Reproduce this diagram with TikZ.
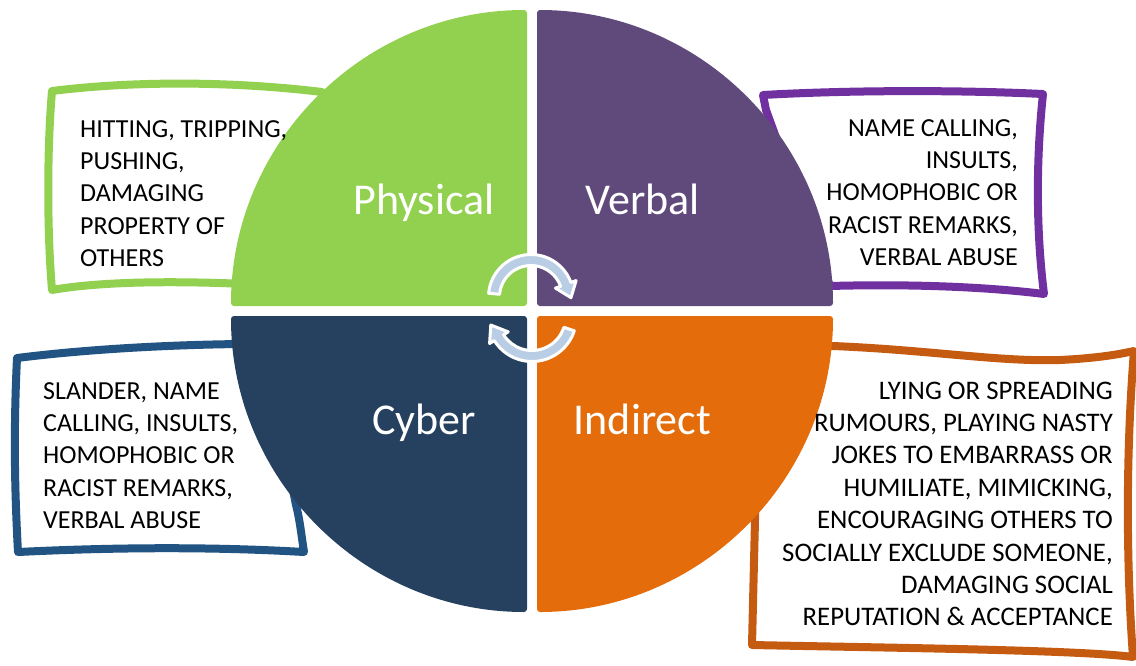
\documentclass[tikz,border=0pt]{standalone}
\usepackage{fontspec}
\setmainfont{Carlito}
\usetikzlibrary{calc}
\definecolor{cgreen}{RGB}{146,208,80}
\definecolor{cpurple}{RGB}{96,74,123}
\definecolor{cnavy}{RGB}{38,64,96}
\definecolor{corange}{RGB}{228,108,10}
\definecolor{bpurple}{RGB}{112,48,160}
\definecolor{bblue}{RGB}{33,84,130}
\definecolor{borange}{RGB}{197,90,17}
\definecolor{arrowblue}{RGB}{185,205,229}
\begin{document}
\begin{tikzpicture}[x=1pt,y=-1pt,
  wavybox/.style={fill=white, line width=8pt, line join=round},
  quad/.style={rounded corners=3pt},
  quadlabel/.style={text=white, font=\fontsize{44}{52}\selectfont, inner sep=0pt, anchor=base},
  boxtext/.style={font=\fontsize{26}{32.4}\selectfont, inner sep=0pt, text=black},
  cyclearrow/.style={fill=arrowblue, draw=white, line width=3pt, line join=round}]

\useasboundingbox (0,0) rectangle (1136,665);

% ---------- wavy text boxes (behind the circle) ----------
% Physical
\draw[wavybox, draw=cgreen]
  (52,91) .. controls (140,80) and (240,82) .. (322,92)
  -- (318,200) -- (318,288)
  .. controls (230,282) and (120,278) .. (52,290)
  .. controls (47,230) and (47,150) .. cycle;
% Verbal
\draw[wavybox, draw=bpurple]
  (763,95) .. controls (850,90) and (960,90) .. (1043,94)
  .. controls (1036,160) and (1036,230) .. (1044,294)
  .. controls (980,286) and (900,284) .. (830,286)
  -- (766,110) -- cycle;
% Cyber
\draw[wavybox, draw=bblue]
  (17,358) .. controls (80,350) and (160,345) .. (240,344)
  -- (285,450) -- (296,505)
  .. controls (300,520) and (302,540) .. (304,552)
  .. controls (200,546) and (100,548) .. (18,552)
  .. controls (14,480) and (14,420) .. cycle;
% Indirect
\draw[wavybox, draw=borange]
  (760,348) -- (833,346)
  .. controls (930,350) and (1000,362) .. (1060,360)
  .. controls (1100,358) and (1120,354) .. (1134,351)
  .. controls (1126,450) and (1126,560) .. (1133,657)
  .. controls (1080,650) and (900,648) .. (752,645)
  -- (755,520) -- cycle;

% ---------- quadrants ----------
\fill[cgreen, quad] (527,306) -- (231,306) arc[start angle=180, end angle=270, radius=296] -- cycle;
\fill[cpurple, quad] (537,306) -- (537,10) arc[start angle=270, end angle=360, radius=296] -- cycle;
\fill[cnavy, quad] (527,316) -- (527,612) arc[start angle=90, end angle=180, radius=296] -- cycle;
\fill[corange, quad] (537,316) -- (833,316) arc[start angle=0, end angle=90, radius=296] -- cycle;

% ---------- circular arrows ----------
\coordinate (cA) at (531,297);
\coordinate (cB) at (532,317);
\path[cyclearrow]
  ($(cA)+(185:31.5)$) arc[start angle=185, end angle=340, radius=31.5]
  -- ($(cA)+(340:26)$) -- ($(cA)+(361:40)$) -- ($(cA)+(340:48)$)
  -- ($(cA)+(340:42.5)$) arc[start angle=340, end angle=185, radius=42.5] -- cycle;
\path[cyclearrow]
  ($(cB)+(18:33.5)$) arc[start angle=18, end angle=148, radius=33.5]
  -- ($(cB)+(148:28)$) -- ($(cB)+(169:42)$) -- ($(cB)+(148:50)$)
  -- ($(cB)+(148:44.5)$) arc[start angle=148, end angle=18, radius=44.5] -- cycle;

% ---------- quadrant labels ----------
\node[quadlabel] (physical) at (424,214) {Physical};
\node[quadlabel] (verbal) at (642.5,214) {Verbal};
\node[quadlabel] (cyber) at (424,434) {Cyber};
\node[quadlabel] (indirect) at (642.5,434) {Indirect};

% ---------- box texts ----------
\node[boxtext, anchor=north west, align=left] (tphys) at (80,120)
  {HITTING, TRIPPING,\\PUSHING,\\DAMAGING\\PROPERTY OF\\OTHERS};
\node[boxtext, anchor=north east, align=right] (tverb) at (1018,119)
  {NAME CALLING,\\INSULTS,\\HOMOPHOBIC OR\\RACIST REMARKS,\\VERBAL ABUSE};
\node[boxtext, anchor=north west, align=left] (tcyb) at (43,382)
  {SLANDER, NAME\\CALLING, INSULTS,\\HOMOPHOBIC OR\\RACIST REMARKS,\\VERBAL ABUSE};
\node[boxtext, font=\fontsize{26.8}{32.4}\selectfont, anchor=north east, align=right] (tind) at (1113,381.5)
  {LYING OR SPREADING\\RUMOURS, PLAYING NASTY\\JOKES TO EMBARRASS OR\\HUMILIATE, MIMICKING,\\ENCOURAGING OTHERS TO\\SOCIALLY EXCLUDE SOMEONE,\\DAMAGING SOCIAL\\REPUTATION \& ACCEPTANCE};
\end{tikzpicture}
\end{document}
